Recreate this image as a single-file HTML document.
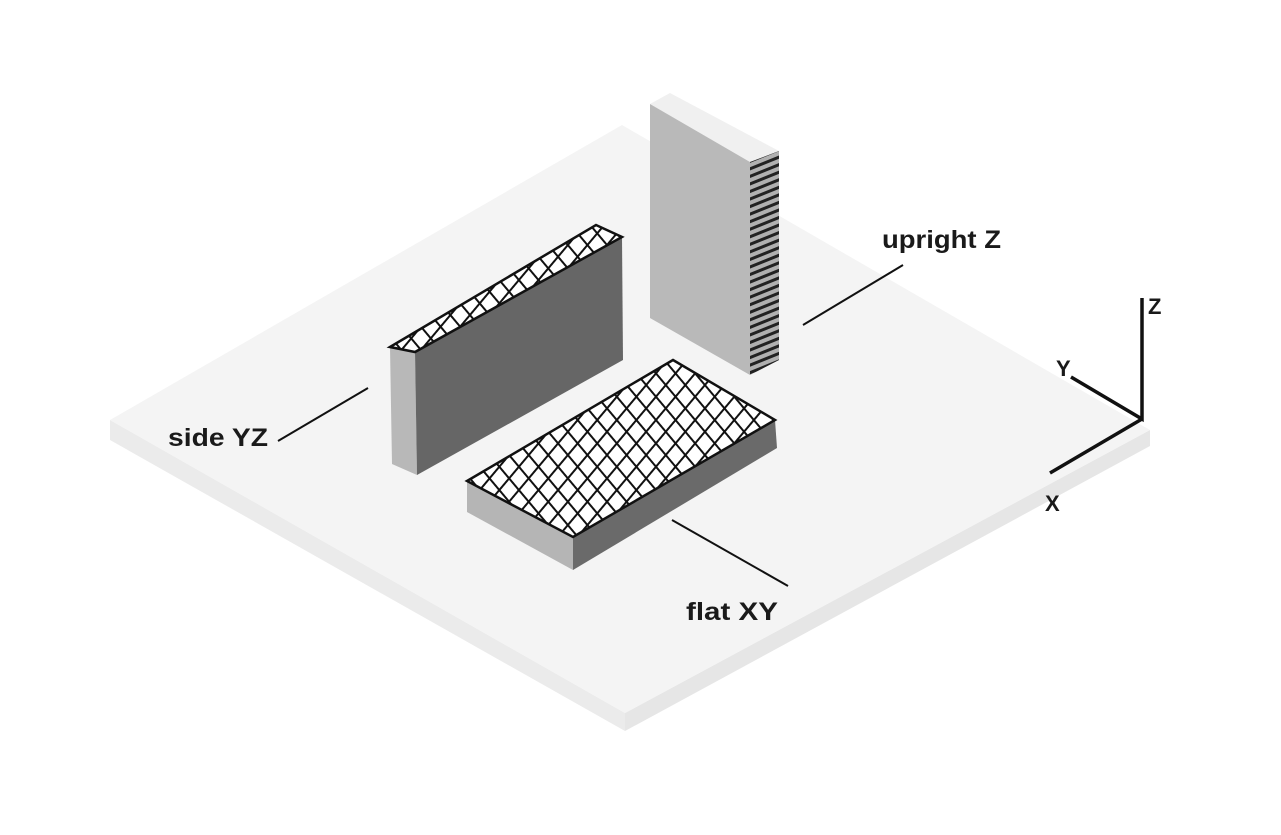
<!DOCTYPE html>
<html><head><meta charset="utf-8"><style>
html,body{margin:0;padding:0;background:#fff;}
svg{display:block}
text{font-family:"Liberation Sans",sans-serif;font-weight:bold;fill:#1a1a1a;}
</style></head><body>
<svg width="1281" height="835" viewBox="0 0 1281 835" xmlns="http://www.w3.org/2000/svg">
<defs>
<pattern id="h1" patternUnits="userSpaceOnUse" width="20" height="15" patternTransform="rotate(-50)">
<line x1="0" y1="7.5" x2="20" y2="7.5" stroke="#111" stroke-width="2"/></pattern>
<pattern id="h2" patternUnits="userSpaceOnUse" width="20" height="15" patternTransform="rotate(50)">
<line x1="0" y1="7.5" x2="20" y2="7.5" stroke="#111" stroke-width="2"/></pattern>
<pattern id="s1" patternUnits="userSpaceOnUse" width="20" height="7" patternTransform="rotate(-22)">
<line x1="0" y1="3.5" x2="20" y2="3.5" stroke="#222" stroke-width="3"/></pattern>
</defs>
<!-- platform -->
<polygon points="110,420 625,713 625,731 110,440" fill="#ebebeb"/>
<polygon points="625,713 1150,430 1150,446 625,731" fill="#e6e6e6"/>
<polygon points="622,125 1150,430 625,713 110,420" fill="#f4f4f4"/>

<!-- upright block -->
<polygon points="650,104 670,93 779,151 750,162" fill="#f0f0f0"/>
<polygon points="650,104 750,162 750,375 650,318" fill="#b9b9b9"/>
<polygon points="750,162 779,151 779,360 750,375" fill="#b0b0b0"/>
<polygon points="750,162 779,151 779,360 750,375" fill="url(#s1)"/>

<!-- side YZ block -->
<polygon points="390,347 415,352 417,475 392,464" fill="#b8b8b8"/>
<polygon points="415,352 622,237 623,360 417,475" fill="#666"/>
<polygon points="390,347 596,225 622,237 415,352" fill="#fff"/>
<polygon points="390,347 596,225 622,237 415,352" fill="url(#h1)"/>
<polygon points="390,347 596,225 622,237 415,352" fill="url(#h2)"/>
<polygon points="390,347 596,225 622,237 415,352" fill="none" stroke="#111" stroke-width="2.5"/>

<!-- flat XY block -->
<polygon points="467,481 573,537 573,570 467,512" fill="#b5b5b5"/>
<polygon points="573,537 775,420 777,448 573,570" fill="#6a6a6a"/>
<polygon points="467,481 673,360 775,420 573,537" fill="#fff"/>
<polygon points="467,481 673,360 775,420 573,537" fill="url(#h1)"/>
<polygon points="467,481 673,360 775,420 573,537" fill="url(#h2)"/>
<polygon points="467,481 673,360 775,420 573,537" fill="none" stroke="#111" stroke-width="2.5"/>

<!-- leader lines -->
<g stroke="#111" stroke-width="2">
<line x1="803" y1="325" x2="903" y2="265"/>
<line x1="278" y1="441" x2="368" y2="388"/>
<line x1="672" y1="520" x2="788" y2="586"/>
</g>
<!-- axes -->
<g stroke="#111" stroke-width="3.5" fill="none">
<polyline points="1142,298 1142,419 1071,377"/>
<line x1="1142" y1="419" x2="1050" y2="473"/>
</g>
<text x="882" y="248" font-size="25" textLength="119" lengthAdjust="spacingAndGlyphs">upright Z</text>
<text x="168" y="446" font-size="25" textLength="100" lengthAdjust="spacingAndGlyphs">side YZ</text>
<text x="686" y="620" font-size="25" textLength="92" lengthAdjust="spacingAndGlyphs">flat XY</text>
<text x="1148" y="314" font-size="22">Z</text>
<text x="1056" y="376" font-size="22">Y</text>
<text x="1045" y="511" font-size="22">X</text>
</svg>
</body></html>
